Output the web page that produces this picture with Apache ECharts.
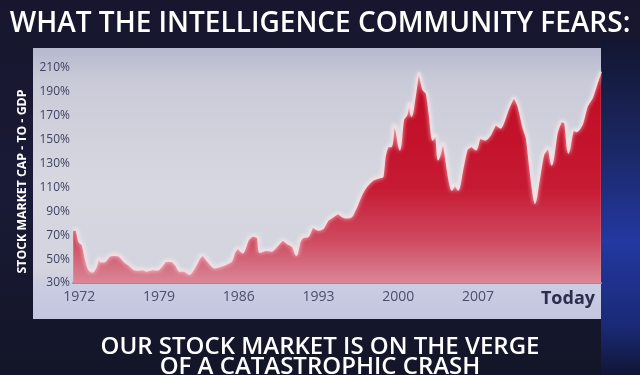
<!DOCTYPE html>
<html>
<head>
<meta charset="utf-8">
<script src="https://cdn.jsdelivr.net/npm/echarts@6/dist/echarts.min.js"></script>
<style>
html,body{margin:0;padding:0;background:#16172f;}
#chart{width:640px;height:375px;}
</style>
</head>
<body>
<div id="chart"></div>
<script>
// Data (stock market cap as % of GDP)
var years = [1971.47,1971.71,1972.00,1972.29,1972.59,1972.88,1973.17,1973.47,1973.70,1973.91,1974.20,1974.64,1975.08,1975.52,1975.96,1976.40,1976.84,1977.28,1977.57,1977.87,1978.45,1978.89,1979.18,1979.62,1980.06,1980.50,1980.79,1981.23,1981.67,1982.11,1982.55,1982.84,1983.28,1983.87,1984.31,1984.90,1985.34,1985.63,1985.92,1986.36,1986.80,1987.24,1987.68,1987.83,1988.42,1988.86,1989.30,1989.88,1990.32,1990.76,1991.06,1991.35,1991.64,1992.08,1992.52,1992.96,1993.40,1993.84,1994.28,1994.72,1995.10,1995.45,1995.89,1996.18,1996.33,1996.77,1997.21,1997.79,1998.38,1998.62,1998.82,1999.11,1999.41,1999.64,1999.85,2000.14,2000.43,2000.73,2000.96,2001.17,2001.46,2001.81,2002.19,2002.49,2002.78,2003.02,2003.31,2003.51,2003.95,2004.25,2004.69,2004.98,2005.27,2005.57,2006.01,2006.45,2006.83,2007.18,2007.62,2008.06,2008.58,2009.00,2009.52,2009.82,2010.17,2010.55,2010.99,2011.28,2011.57,2012.01,2012.30,2012.74,2013.18,2013.48,2013.92,2014.36,2014.65,2014.94,2015.38,2015.68,2016.12,2016.56,2017.00,2017.44,2017.79];
var values = [74,75,64.7,62,49,41,39.5,43.7,50.7,48,48,52.7,53.5,52.7,48,45,41.5,41,41.5,40.3,41.5,41,43.7,48.5,48.5,45,40.3,40.3,37.5,43,50.7,53.5,48.5,43,44,46,48.5,56,59,55.5,66,69.5,68,56,57.7,57,60.5,66,63,60.5,53.5,64.7,68.4,69,76.8,74.5,76,83,85.7,88.5,85.7,84.8,85.7,91,94,104,111,116.5,118.5,119,136,144.5,144.5,162.7,157,141.7,166.9,171,180.9,169.6,186.4,206,192,189,169.6,150,154,133.3,147.3,130.5,108,112,108,122,141.7,144.5,141.7,151.5,150,154,162.7,160,172.5,179.5,185,178,160,151.5,127.6,97,113.7,137.5,143,129,155.7,165.4,164,139,158.5,157,162.7,178,185,197.7,207];
var xTickValues = [1972,1979,1986,1993,2000,2007,2014.9];
var xTickLabels = ['1972','1979','1986','1993','2000','2007','Today'];
var yTickValues = [30,50,70,90,110,130,150,170,190,210];
var titleText = 'WHAT THE INTELLIGENCE COMMUNITY FEARS:';
var subtitleText = 'OUR STOCK MARKET IS ON THE VERGE\nOF A CATASTROPHIC CRASH';
var yAxisName = 'STOCK MARKET CAP - TO - GDP';

var seriesData = years.map(function (y, i) { return [y, values[i]]; });

var chart = echarts.init(document.getElementById('chart'));
var font = '"Open Sans", "Noto Sans", sans-serif';
chart.setOption({
  animation: false,
  backgroundColor: {
    type: 'linear', x: 0, y: 0, x2: 0, y2: 1,
    colorStops: [{offset: 0, color: '#17162e'}, {offset: 0.5, color: '#191a36'}, {offset: 1, color: '#131528'}]
  },
  graphic: [
    {type: 'rect', z: -10, shape: {x: 601, y: 40, width: 39, height: 335},
      style: {fill: {type: 'linear', x: 0, y: 0, x2: 0, y2: 1, colorStops: [
        {offset: 0, color: '#121630'}, {offset: 0.3, color: '#1a2660'}, {offset: 0.6, color: '#2338a0'}, {offset: 0.85, color: '#1a2a78'}, {offset: 1, color: '#101634'}]}}},
    {type: 'rect', z: -9, shape: {x: 33, y: 48, width: 568, height: 271},
      style: {fill: {type: 'linear', x: 0, y: 0, x2: 0, y2: 1, colorStops: [
        {offset: 0, color: '#b6b8cf'}, {offset: 0.12, color: '#cacbd8'}, {offset: 0.5, color: '#d6d7df'}, {offset: 0.82, color: '#d3d4de'}, {offset: 0.88, color: '#c9cce2'}, {offset: 1, color: '#c3c6de'}]}}}
  ],
  title: [
    {text: titleText, left: 'center', top: 5,
      textStyle: {color: '#ffffff', fontFamily: font, fontWeight: 600, fontSize: 28}},
    {text: subtitleText, left: 'center', top: 332,
      textStyle: {color: '#ffffff', fontFamily: font, fontWeight: 600, fontSize: 24, lineHeight: 20}}
  ],
  grid: {left: 73, right: 39, top: 68, bottom: 92, containLabel: false},
  xAxis: {
    type: 'value', min: 1971.45, max: 2017.8,
    splitLine: {show: false},
    axisTick: {show: false},
    axisLine: {show: true, lineStyle: {color: '#8e90aa', width: 2}},
    axisLabel: {
      customValues: xTickValues,
      showMinLabel: true, showMaxLabel: true,
      margin: 7, color: '#4b4e6c', fontSize: 14, fontFamily: font,
      formatter: function (v) {
        var best = 0, d = 1e9;
        for (var i = 0; i < xTickValues.length; i++) {
          var dd = Math.abs(xTickValues[i] - v);
          if (dd < d) { d = dd; best = i; }
        }
        var lab = xTickLabels[best];
        return lab === 'Today' ? '{t|' + lab + '}' : lab;
      },
      rich: {t: {fontSize: 18, fontWeight: 700, color: '#2b2e4c', fontFamily: font}}
    }
  },
  yAxis: {
    type: 'value', min: 30, max: 210,
    name: yAxisName, nameLocation: 'middle', nameGap: 44, nameRotate: 90,
    nameTextStyle: {color: '#ffffff', fontSize: 12.3, fontWeight: 700, fontFamily: font, padding: [0, 12, 0, 0]},
    splitLine: {show: false},
    axisTick: {show: false},
    axisLine: {show: false},
    axisLabel: {
      customValues: yTickValues,
      margin: 3, color: '#3f4262', fontSize: 12, fontFamily: font,
      formatter: function (v) { return v + '%'; }
    }
  },
  series: [{
    type: 'line',
    data: seriesData,
    showSymbol: false,
    smooth: 0.2,
    lineStyle: {color: '#f5dbe0', width: 2, shadowColor: 'rgba(255,255,255,0.9)', shadowBlur: 4},
    areaStyle: {
      opacity: 1,
      color: {type: 'linear', x: 0, y: 0, x2: 0, y2: 1, colorStops: [
        {offset: 0, color: '#c00a22'}, {offset: 0.55, color: '#c61a33'}, {offset: 0.8, color: '#cf4a60'}, {offset: 1, color: '#da8797'}]}
    }
  }]
});
</script>
</body>
</html>
